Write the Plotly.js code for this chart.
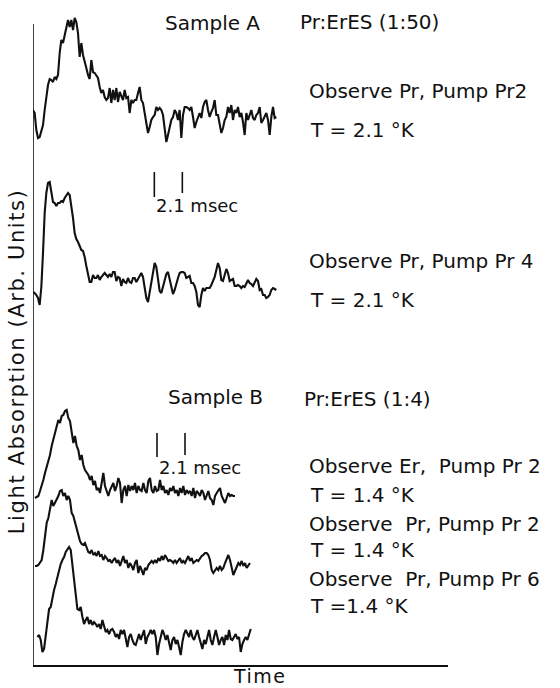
<!DOCTYPE html>
<html>
<head>
<meta charset="utf-8">
<script src="https://cdn.plot.ly/plotly-3.0.1.min.js"></script>
<style>
html,body{margin:0;padding:0;background:#fff;}
#chart{width:560px;height:688px;}
</style>
</head>
<body>
<div id="chart"></div>
<script>
// ---- data (time in msec, absorption in arbitrary units) ----
const sampleStep = 0.125; // msec between recorded points
const traceNames = ["Sample A: Observe Pr, Pump Pr2", "Sample A: Observe Pr, Pump Pr 4",
  "Sample B: Observe Er, Pump Pr 2", "Sample B: Observe Pr, Pump Pr 2", "Sample B: Observe Pr, Pump Pr 6"];
const traceStart = [0, 0, 0.15, 0.15, 0.33];      // msec
const traceOffset = [550, 380, 172, 102, 28];     // vertical stacking offset (arb. units)

const sigA1 = [5,2,-15,-23,-22,-17,-10,5,17,30,36,35,33,38,36,40,62,75,72,80,87,95,88,95,85,97,93,82,58,72,60,52,47,40,36,55,43,42,39,37,28,22,25,18,15,17,27,12,25,15,27,13,23,18,15,25,17,18,2,15,12,15,15,22,28,15,12,2,-8,-18,-12,-5,-2,0,8,5,7,5,0,-15,-27,-20,-13,-5,-2,5,2,-5,5,-23,0,8,8,7,5,8,-2,-13,-7,-2,2,-3,8,13,15,5,-2,3,7,15,0,0,-8,-18,-13,-5,-2,8,2,10,-5,5,2,8,-2,2,-7,-20,2,-5,0,5,-3,-5,0,2,8,-8,-5,-2,2,-5,-20,-2,8,-3,-2];
const sigA2 = [-7,-8,-10,-13,-20,-2,32,72,92,102,103,92,83,82,79,82,82,84,83,87,90,92,90,80,67,52,46,43,39,35,34,28,19,12,3,3,10,7,7,10,5,8,10,12,10,8,11,8,13,13,4,8,7,-1,6,3,2,7,3,2,7,7,3,6,9,12,8,-2,-13,-17,-8,2,11,22,18,3,-6,-8,-2,3,11,13,5,-3,-9,-5,2,7,12,13,13,12,7,8,9,2,2,-1,-7,-20,-22,-10,-3,-6,-3,-3,-3,0,4,8,15,22,17,5,4,9,16,12,4,5,6,-1,-1,0,-1,-3,-1,-2,1,5,2,1,-1,2,6,4,-5,-4,-10,-10,-13,-12,-10,-5,-3,-4,-5];
const sigB1 = [-5,-4,-3,2,7,13,20,26,32,38,47,53,60,67,73,70,77,78,82,83,75,72,58,50,57,47,43,33,38,28,23,20,18,13,17,8,12,3,5,0,10,20,7,2,-3,3,7,10,2,7,15,10,-10,3,7,-3,8,2,7,3,10,0,7,3,2,10,3,0,12,15,3,0,7,2,3,13,3,7,0,3,-2,5,2,7,0,3,-3,5,0,7,-2,3,0,2,-3,5,-5,2,0,-3,3,0,-7,-3,2,-5,-7,-12,-3,0,3,5,-3,-7,-10,-5,0,-3,-2,-3,-3];
const sigB2 = [-3,-3,-2,0,3,13,27,40,45,53,63,57,60,63,67,72,73,67,70,63,67,63,50,47,40,35,27,22,19,18,20,15,11,10,13,8,10,7,12,7,8,3,7,5,2,3,0,3,5,0,3,-3,2,7,0,3,-5,0,-3,-7,0,3,-10,-3,-7,-12,-5,-7,-2,0,2,0,3,0,5,2,7,3,8,5,2,3,2,0,3,0,2,5,0,2,0,3,7,2,5,0,2,3,2,5,7,8,10,10,8,3,-7,-10,-8,-5,-7,-3,-7,-5,0,5,8,3,-5,-12,-8,-3,0,-2,2,-3,0,-5,-2,0];
const sigB3 = [0,2,-3,-15,-12,3,17,28,30,40,47,53,60,67,73,77,80,85,88,90,87,73,55,47,28,27,30,20,13,17,20,13,17,12,15,13,10,13,8,17,10,5,7,3,7,8,5,0,3,-2,7,3,7,-3,-10,0,3,-3,-7,-8,-3,3,-3,2,7,-7,0,3,7,3,7,0,-18,-7,0,7,3,-3,2,-7,-13,-3,0,-7,-3,-10,-18,-5,3,7,3,0,7,0,-3,3,7,0,-7,-12,-3,-7,0,7,-3,-8,0,7,0,-8,-3,0,-8,2,-3,7,-2,-3,0,3,-2,0,-15,-7,-3,0,-3,3,8];
const signals = [sigA1, sigA2, sigB1, sigB2, sigB3];

const scaleBarMs = 2.1;
const scaleBarLabel = "2.1 msec";

// ---- text labels (positions in msec / arb. units) ----
const FONT = "DejaVu Sans";
const labels = [
  {t:"Sample A", x:9.75, y:642},
  {t:"Pr:ErES (1:50)", x:19.88, y:643},
  {t:"Observe Pr, Pump Pr2", x:20.55, y:574},
  {t:"T = 2.1 °K", x:20.63, y:535},
  {t:"Observe Pr, Pump Pr 4", x:20.55, y:404},
  {t:"T = 2.1 °K", x:20.63, y:365},
  {t:"Sample B", x:10.0, y:268},
  {t:"Pr:ErES (1:4)", x:20.18, y:266},
  {t:"Observe Er,\u00a0 Pump Pr 2", x:20.55, y:199},
  {t:"T = 1.4 °K", x:20.63, y:170},
  {t:"Observe\u00a0 Pr, Pump Pr 2", x:20.55, y:141},
  {t:"T = 1.4 °K", x:20.63, y:115},
  {t:"Observe\u00a0 Pr, Pump Pr 6", x:20.55, y:86},
  {t:"T =1.4 °K", x:20.63, y:59}
];
const scaleBars = [ {x:9.1, yLeft:[468,493], yRight:[472,493], ylab:460},
                    {x:9.3, yLeft:[208,232], yRight:[210,232], ylab:198} ];

const X_MAX = 31.125, Y_MAX = 660, AXIS_TOP = 641;

// ---- build ----
const traces = signals.map((s, k) => ({
  type: "scatter", mode: "lines", name: traceNames[k],
  x: s.map((_, i) => traceStart[k] + i * sampleStep),
  y: s.map(v => v + traceOffset[k]),
  line: {color: "#111", width: 2.1},
  hoverinfo: "skip", showlegend: false
}));

const annotations = labels.map(l => ({
  text: l.t, x: l.x, y: l.y, xref: "x", yref: "y",
  xanchor: "left", yanchor: "middle", showarrow: false,
  font: {family: FONT, size: 20, color: "#111"}
}));
const shapes = [
  {type:"line", xref:"x", yref:"y", x0:0, x1:0, y0:0, y1:AXIS_TOP, line:{color:"#111", width:1.6}}
];
scaleBars.forEach(b => {
  shapes.push({type:"line", xref:"x", yref:"y", x0:b.x, x1:b.x, y0:b.yLeft[0], y1:b.yLeft[1], line:{color:"#111", width:1.6}});
  shapes.push({type:"line", xref:"x", yref:"y", x0:b.x+scaleBarMs, x1:b.x+scaleBarMs, y0:b.yRight[0], y1:b.yRight[1], line:{color:"#111", width:1.6}});
  annotations.push({text: scaleBarLabel, x:b.x, y:b.ylab, xref:"x", yref:"y", xanchor:"left", yanchor:"middle",
    showarrow:false, font:{family:FONT, size:18, color:"#111"}});
});
annotations.push({text:"Time", x:17.0/X_MAX, y:-11/Y_MAX, xref:"paper", yref:"paper", xanchor:"center", yanchor:"middle",
  showarrow:false, font:{family:FONT, size:19, color:"#111"}});
annotations.push({text:"Light Absorption (Arb. Units)", x:-1.2/X_MAX, y:303/Y_MAX, xref:"paper", yref:"paper", xanchor:"center", yanchor:"middle",
  textangle:-90, showarrow:false, font:{family:FONT, size:21, color:"#111"}});

const layout = {
  width: 560, height: 688,
  margin: {l:33, r:112, t:5, b:23, pad:0},
  paper_bgcolor: "#fff", plot_bgcolor: "#fff",
  showlegend: false,
  xaxis: {range:[0, X_MAX], showline:true, linecolor:"#111", linewidth:1.6, showgrid:false, zeroline:false,
          showticklabels:false, ticks:"", fixedrange:true},
  yaxis: {range:[0, Y_MAX], showline:false, showgrid:false, zeroline:false,
          showticklabels:false, ticks:"", fixedrange:true},
  annotations: annotations,
  shapes: shapes
};

Plotly.newPlot("chart", traces, layout, {staticPlot:true, displayModeBar:false}).then(() => {
  // the original lettering is widely spaced; widen the centred axis captions a little
  document.querySelectorAll("#chart .annotation-text").forEach(el => {
    const s = el.textContent;
    if (s.indexOf("Light") === 0) el.style.letterSpacing = "1.6px";
    else if (s === "Time") el.style.letterSpacing = "1.5px";
  });
});
</script>
</body>
</html>
